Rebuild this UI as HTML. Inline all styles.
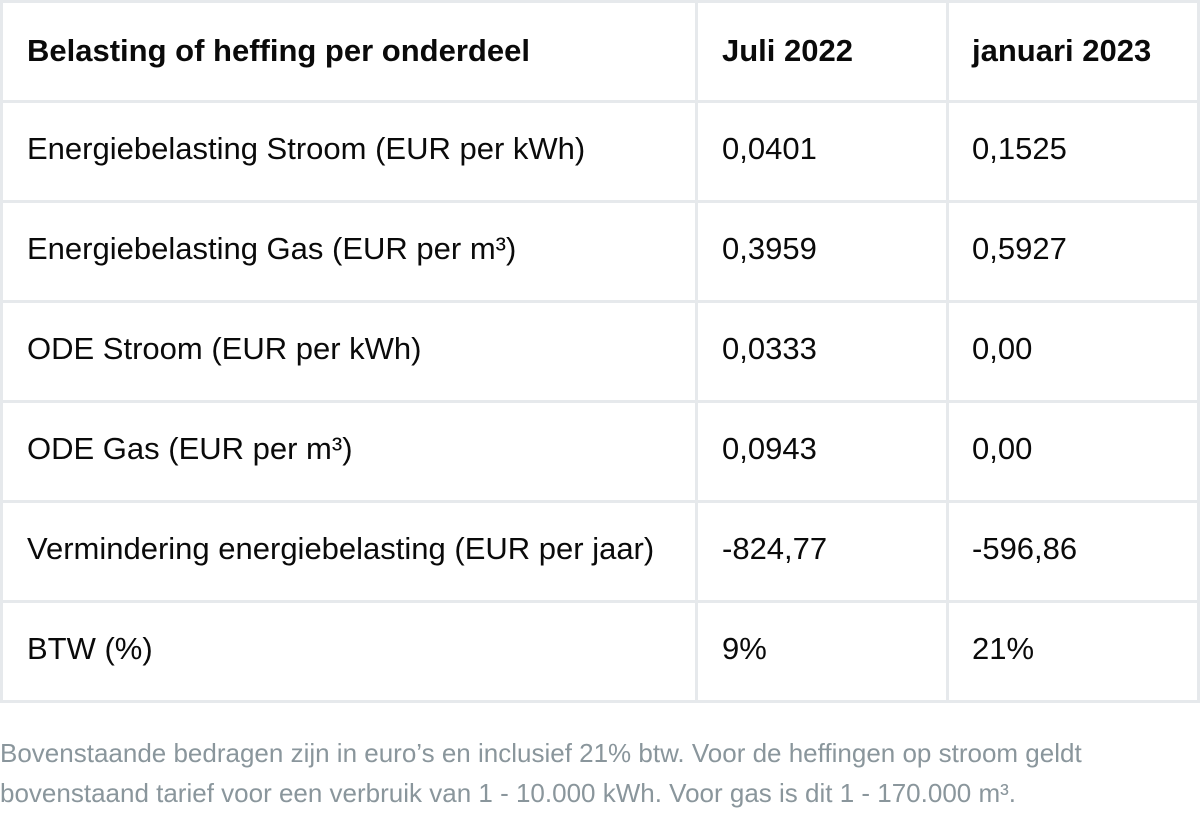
<!DOCTYPE html>
<html>
<head>
<meta charset="utf-8">
<style>
  html, body { margin:0; padding:0; background:#fff; }
  body { width:1200px; height:817px; position:relative; overflow:hidden; font-family:"Liberation Sans", sans-serif; }
  .h { position:absolute; left:0; width:1200px; height:3px; background:#e6e9ec; }
  .v { position:absolute; top:0; width:3px; height:703px; background:#e6e9ec; }
  .t { position:absolute; font-size:31px; line-height:31px; color:#0a0a0a; white-space:nowrap; }
  .b { font-weight:bold; }
  .foot { position:absolute; left:0; top:733px; width:1200px; font-size:26px; line-height:40px; color:#8a969c; white-space:nowrap; }
</style>
</head>
<body>
  <div class="h" style="top:0"></div>
  <div class="h" style="top:100px"></div>
  <div class="h" style="top:200px"></div>
  <div class="h" style="top:300px"></div>
  <div class="h" style="top:400px"></div>
  <div class="h" style="top:500px"></div>
  <div class="h" style="top:600px"></div>
  <div class="h" style="top:700px"></div>
  <div class="v" style="left:0"></div>
  <div class="v" style="left:695px"></div>
  <div class="v" style="left:946px"></div>
  <div class="v" style="left:1197px"></div>

  <div class="t b" style="left:27px;top:35px">Belasting of heffing per onderdeel</div>
  <div class="t b" style="left:722px;top:35px">Juli 2022</div>
  <div class="t b" style="left:972px;top:35px">januari 2023</div>

  <div class="t" style="left:27px;top:133px">Energiebelasting Stroom (EUR per kWh)</div>
  <div class="t" style="left:722px;top:133px">0,0401</div>
  <div class="t" style="left:972px;top:133px">0,1525</div>

  <div class="t" style="left:27px;top:233px">Energiebelasting Gas (EUR per m³)</div>
  <div class="t" style="left:722px;top:233px">0,3959</div>
  <div class="t" style="left:972px;top:233px">0,5927</div>

  <div class="t" style="left:27px;top:333px">ODE Stroom (EUR per kWh)</div>
  <div class="t" style="left:722px;top:333px">0,0333</div>
  <div class="t" style="left:972px;top:333px">0,00</div>

  <div class="t" style="left:27px;top:433px">ODE Gas (EUR per m³)</div>
  <div class="t" style="left:722px;top:433px">0,0943</div>
  <div class="t" style="left:972px;top:433px">0,00</div>

  <div class="t" style="left:27px;top:533px">Vermindering energiebelasting (EUR per jaar)</div>
  <div class="t" style="left:722px;top:533px">-824,77</div>
  <div class="t" style="left:972px;top:533px">-596,86</div>

  <div class="t" style="left:27px;top:633px">BTW (%)</div>
  <div class="t" style="left:722px;top:633px">9%</div>
  <div class="t" style="left:972px;top:633px">21%</div>

  <div class="foot">Bovenstaande bedragen zijn in euro’s en inclusief 21% btw. Voor de heffingen op stroom geldt<br>bovenstaand tarief voor een verbruik van 1 - 10.000 kWh. Voor gas is dit 1 - 170.000 m³.</div>
</body>
</html>
